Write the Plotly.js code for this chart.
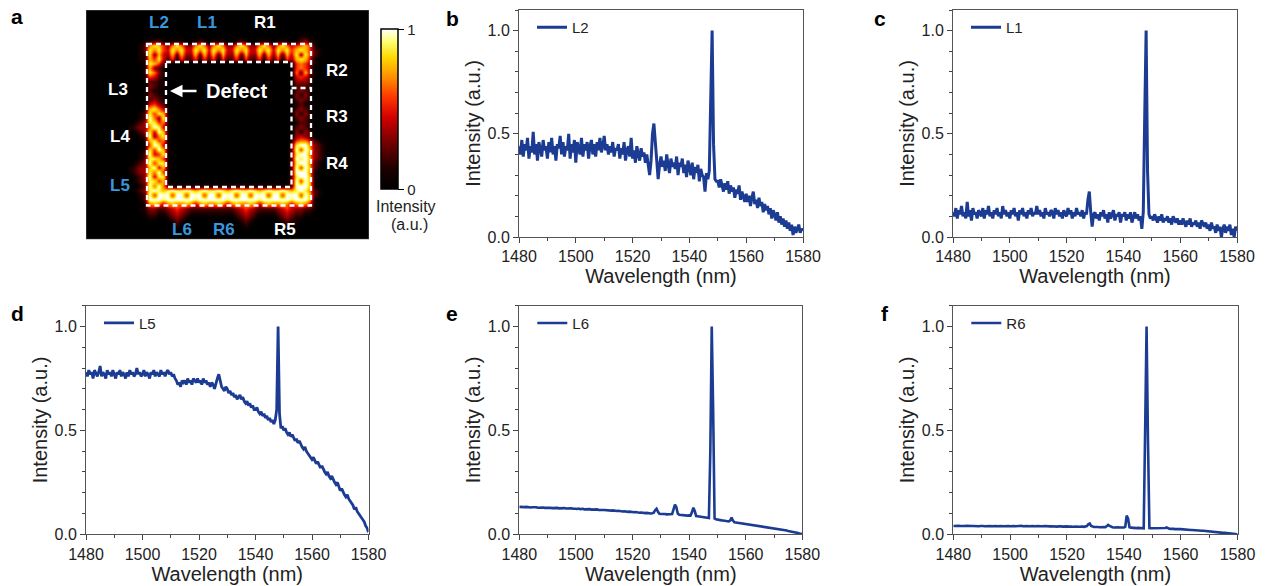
<!DOCTYPE html>
<html><head><meta charset="utf-8">
<script src="https://cdn.plot.ly/plotly-3.0.1.min.js"></script>
<style>html,body{margin:0;padding:0;background:#fff;}#chart{width:1270px;height:586px;}</style>
</head><body><div id="chart"></div>
<script>
// ---------- data ----------
const wlStart = 1480, wlStep = 0.5;      // wavelength grid (nm)
const seriesNames = ['L2', 'L1', 'L5', 'L6', 'R6'];
// normalized intensity, in percent (L2, L1, L5) and per-mille (L6, R6)
const L2pct = [44,40,47,39,45,42,48,38,44,41, 51,40,45,37,46,43,39,47,42,44, 38,46,41,48,40,44,37,45,43,49, 40,46,39,44,42,50,38,45,41,47,
 36,46,43,40,48,39,45,42,46,38, 44,47,40,45,39,46,42,48,41,44, 49,42,45,40,44,41,46,39,43,42, 45,38,43,40,46,37,42,44,39,48,
 38,42,36,44,40,37,43,39,41,36, 40,34,30,37,50,55,47,38,28,35, 39,34,37,32,40,35,31,38,34,36, 33,39,30,36,34,38,31,35,29,37,
 33,30,36,28,34,31,35,27,33,30, 29,22,31,28,32,62,100,45,28,27, 27,24,28,25,22,26,23,27,21,25, 22,24,19,23,21,25,18,22,20,17,
 21,17,20,15,19,22,16,18,14,19, 15,17,12,16,13,15,11,14,9,13, 11,8,12,7,10,6,9,5,8,4, 7,3,6,1,5,2,4,6,2,4, 3];
const L1pct = [12,10,14,9,13,11,15,10,12,9, 17,10,13,8,14,11,12,9,13,11, 10,14,9,13,11,15,10,12,9,13, 11,14,10,12,9,15,11,13,10,12,
 9,13,11,14,10,12,8,13,11,14, 10,12,9,13,11,14,10,12,11,15, 11,13,10,12,9,14,11,12,10,13, 12,9,14,11,13,10,12,9,13,11,
 10,14,11,13,9,12,10,14,11,12, 10,13,9,12,11,18,22,12,5,11, 12,9,11,8,12,10,13,9,11,7, 12,9,11,13,8,11,10,12,7,11,
 10,12,8,11,9,12,7,10,12,9, 11,8,10,4,12,58,100,32,11,9, 10,8,11,9,7,10,8,11,7,9, 8,10,7,9,6,10,8,7,9,6,
 8,6,9,7,5,8,6,9,5,7, 6,8,5,7,4,8,6,5,7,4, 6,3,7,4,5,2,6,3,5,0, 4,6,2,5,3,6,1,4,0,5, 3];
const L5pct = [78,76,79,77,78,75,79,77,76,78, 81,76,78,77,75,79,77,78,76,79, 77,75,78,77,79,76,78,77,75,78, 76,79,77,78,76,77,80,77,78,76,
 77,79,76,78,77,75,78,77,79,76, 78,77,76,79,77,78,76,78,79,77, 78,76,77,75,74,72,73,71,74,73, 74,72,75,73,74,72,75,74,73,75,
 73,74,72,75,73,74,72,73,71,73, 72,70,73,75,77,74,71,70,69,71, 70,68,69,67,68,66,67,65,66,67, 65,66,64,63,64,62,63,61,62,60,
 60,61,59,58,59,57,58,56,57,55, 56,54,55,53,55,60,100,58,51,52, 50,51,49,48,49,47,48,46,45,46, 44,45,43,42,41,42,40,39,38,37,
 36,37,35,34,35,33,32,33,31,30, 29,30,28,27,28,26,25,24,25,23, 21,22,20,19,18,19,17,16,15,14, 12,13,11,10,9,8,7,6,4,3, 1];
const L6pm = [132,131,133,130,131,132,130,131,129,130, 131,129,130,128,129,130,128,129,127,128, 129,127,128,126,127,128,126,127,125,126, 127,125,126,124,125,126,124,125,123,124,
 123,122,124,121,122,123,120,121,119,120, 121,119,120,118,119,120,117,118,116,117, 117,116,117,115,116,114,115,113,114,112, 113,111,112,110,111,109,110,108,109,107,
 108,106,107,105,106,104,105,103,104,102, 103,101,102,100,101,104,116,123,108,99, 98,99,97,98,96,97,95,96,98,120, 143,130,100,94,93,92,93,91,92,90,
 91,90,106,128,112,88,87,86,85,84, 83,82,80,79,78,400,1000,600,76,72, 70,69,68,67,66,65,64,63,62,66, 80,66,58,57,56,55,54,53,52,51,
 50,49,48,47,46,45,44,43,42,41, 40,39,38,37,36,35,34,33,32,31, 30,29,27,26,25,23,22,21,19,18, 16,15,13,12,10,9,7,6,4,3, 1];
const R6pm = [40,41,39,40,41,40,39,41,40,41, 40,39,41,40,40,39,41,40,39,40, 41,40,39,40,41,40,40,39,40,41, 40,39,40,41,40,39,40,40,41,40,
 39,40,41,40,39,40,39,40,41,39, 40,39,40,39,40,41,40,39,40,39, 40,39,38,39,40,39,38,39,38,39, 38,39,38,37,38,39,38,37,38,37,
 38,37,38,37,36,37,38,37,36,37, 36,37,36,38,40,48,52,40,36,35, 35,36,35,34,35,36,35,34,38,45, 40,35,34,33,34,33,34,33,32,33,
 33,36,90,75,34,32,31,32,31,30, 31,30,31,30,29,500,1000,450,30,29, 29,28,29,28,27,28,27,28,27,30, 33,29,27,26,27,26,25,26,25,25,
 25,24,24,23,23,22,22,21,21,20, 20,19,19,18,18,17,17,16,16,15, 15,14,13,13,12,11,10,10,9,8, 7,7,6,5,4,4,3,2,2,1, 0];

// simulated field intensity map (panel a), digits 0..9 = 0..1
const fieldRows = [
"0000|0000|0000000 0000000 0000000 0000000|0000|0000",
"0000|0000|0000000 0000000 0000000 0000000|0110|0000",
"0001|1221|0111001 2101110 0121001 1101110|1231|1000",
"0012|6875|3686336 8636863 3686336 8636864|5675|1000",
"0012|8685|4868448 6848684 4868448 6848685|7875|2100",
"0011|8374|3727337 2737273 3727337 2737274|8385|2100",
"0011|7584|2515225 1525152 2515225 1525153|7874|1000",
"0001|8752|1000000 0000000 0000000 0000000|5653|1000",
"0001|7321|0000000 0000000 0000000 0000000|5653|0000",
"0001|8631|0000000 0000000 0000000 0000000|6273|1000",
"0001|5421|0000000 0000000 0000000 0000000|4542|0000",
"0000|2211|0000000 0000000 0000000 0000000|3332|0000",
"0000|3211|0000000 0000000 0000000 0000000|2221|0000",
"0000|2110|0000000 0000000 0000000 0000000|2321|0000",
"0000|3211|0000000 0000000 0000000 0000000|3131|0000",
"0000|2321|0000000 0000000 0000000 0000000|2321|0000",
"0000|4532|0000000 0000000 0000000 0000000|1211|0000",
"0001|7864|1000000 0000000 0000000 0000000|2321|0000",
"0012|8587|1000000 0000000 0000000 0000000|3131|0000",
"0012|9638|1000000 0000000 0000000 0000000|2321|0000",
"0123|8856|1000000 0000000 0000000 0000000|1221|0000",
"1233|6984|1000000 0000000 0000000 0000000|2321|0000",
"0123|8497|1000000 0000000 0000000 0000000|3132|0000",
"0012|9368|1000000 0000000 0000000 0000000|3432|0000",
"0001|7856|1000000 0000000 0000000 0000001|5664|2100",
"0001|5984|1000000 0000000 0000000 0000002|8996|3210",
"0001|8597|1000000 0000000 0000000 0000002|9597|3210",
"0012|9458|1000000 0000000 0000000 0000002|8996|3210",
"0012|8875|1000000 0000000 0000000 0000002|9897|3210",
"0123|9588|1000000 0000000 0000000 0000002|8996|2100",
"1233|7947|1000000 0000000 0000000 0000002|9597|2100",
"1233|8695|1000000 0000000 0000000 0000002|9996|1000",
"0123|9488|1000000 0000000 0000000 0000002|8997|1000",
"0123|8857|1000000 0000000 0000000 0000002|9597|1000",
"0012|9696|2111111 1111111 1111111 1111112|9997|1000",
"0123|8987|8988987 8988987 8988987 8988987|8986|2100",
"0012|9599|9599599 9599599 9599599 9599599|9597|2100",
"0012|9998|9999998 9999998 9999998 9999998|9997|1000",
"0001|6764|6766764 6766764 6766764 6766764|6764|1000",
"0011|3322|3454322 2222222 2345432 2223454|3322|1000",
"0001|2211|2343211 1111111 1234321 1112343|2211|0000",
"0000|1100|1232100 0000000 0123210 0001232|1100|0000",
"0000|0000|0121000 0000000 0012100 0000121|1000|0000",
"0000|0000|0010000 0000000 0001000 0000010|0000|0000"
];
const portLabels = ['L2','L1','R1','R2','L3','R3','L4','R4','L5','L6','R6','R5'];
const portBlue   = [true,true,false,false,false,false,false,false,true,true,true,false];

// ---------- build ----------
const FONT = 'Arial, "Liberation Sans", sans-serif';
const W = 1270, H = 586;
const px = v => v / W, py = v => 1 - v / H;
const LINE = '#1b3c92';

const fieldZ = fieldRows.map(r => r.replace(/[^0-9]/g, '').split('').map(d => (+d) / 9));

const scaled = [L2pct.map(v => v / 100), L1pct.map(v => v / 100), L5pct.map(v => v / 100),
                L6pm.map(v => v / 1000), R6pm.map(v => v / 1000)];
const lineWidths = [3, 3, 2.8, 2.6, 2.6];

const panels = [ // plot-area boxes in pixels
  {l: 519, r: 803, t: 10, b: 237},
  {l: 953, r: 1237, t: 10, b: 237},
  {l: 86, r: 368.5, t: 305.7, b: 534.3},
  {l: 519.3, r: 802.3, t: 305.7, b: 534.3},
  {l: 953.3, r: 1237.5, t: 305.7, b: 534.3}
];

const traces = [];
const layout = {
  width: W, height: H, margin: {l: 0, r: 0, t: 0, b: 0},
  paper_bgcolor: '#fff', plot_bgcolor: 'rgba(0,0,0,0)',
  font: {family: FONT, color: '#222'},
  showlegend: true, annotations: [], shapes: []
};

panels.forEach((p, i) => {
  const n = i + 1;
  const xk = n === 1 ? 'xaxis' : 'xaxis' + n, yk = n === 1 ? 'yaxis' : 'yaxis' + n;
  const xr = n === 1 ? 'x' : 'x' + n, yr = n === 1 ? 'y' : 'y' + n;
  const lg = n === 1 ? 'legend' : 'legend' + n;
  traces.push({
    type: 'scatter', mode: 'lines', name: seriesNames[i],
    x0: wlStart, dx: wlStep, y: scaled[i],
    xaxis: xr, yaxis: yr, legend: lg,
    line: {color: LINE, width: lineWidths[i]}, hoverinfo: 'skip'
  });
  const common = {
    showline: true, mirror: true, linecolor: '#555', linewidth: 1,
    ticks: 'outside', ticklen: 5, tickwidth: 1, tickcolor: '#444',
    showgrid: false, zeroline: false,
    tickfont: {size: 16, color: '#222', family: FONT}
  };
  layout[xk] = Object.assign({}, common, {
    domain: [px(p.l), px(p.r)], anchor: yr, range: [1480, 1580],
    tick0: 1480, dtick: 20,
    minor: {ticks: 'outside', ticklen: 3, dtick: 10, tickcolor: '#444'},
    title: {text: 'Wavelength (nm)', font: {size: 20, color: '#222', family: FONT}, standoff: 4}
  });
  layout[yk] = Object.assign({}, common, {
    domain: [py(p.b), py(p.t)], anchor: xr, range: [0, 1.1],
    tick0: 0, dtick: 0.5, tickformat: '.1f',
    minor: {ticks: 'outside', ticklen: 3, dtick: 0.1, tickcolor: '#444'},
    title: {text: 'Intensity (a.u.)', font: {size: 20, color: '#222', family: FONT}, standoff: 1}
  });
  layout[lg] = {
    x: px(p.l + 13), y: py(p.t + 1), xanchor: 'left', yanchor: 'top',
    bgcolor: 'rgba(0,0,0,0)', borderwidth: 0,
    font: {size: 15, color: '#222', family: FONT}
  };
});

// heatmap panel (a)
const IMG = {l: 86, r: 369, t: 10, b: 239.3};
const cellW = 4.583, cellH = 4.53;
traces.push({
  type: 'heatmap', z: fieldZ,
  x0: 147 - 4 * cellW + cellW / 2, dx: cellW,
  y0: 43 - 3 * cellH + cellH / 2, dy: cellH,
  xaxis: 'x6', yaxis: 'y6', zmin: 0, zmax: 1, zsmooth: 'best',
  showlegend: false, hoverinfo: 'skip',
  colorscale: [[0,'#000000'],[0.12,'#1a0000'],[0.3,'#7a0000'],[0.45,'#d40000'],[0.58,'#ff3a00'],
               [0.7,'#ff9000'],[0.82,'#ffd800'],[0.92,'#ffff70'],[1,'#ffffff']],
  colorbar: {
    x: px(381), xanchor: 'left', xref: 'paper', y: py(109.3), yanchor: 'middle',
    len: 160, lenmode: 'pixels', thickness: 17, thicknessmode: 'pixels',
    outlinewidth: 1.5, outlinecolor: '#000', xpad: 0, ypad: 0,
    ticks: 'outside', ticklen: 6, tickwidth: 1.2, tickcolor: '#000',
    tickvals: [0, 1], ticktext: ['0', '1'],
    tickfont: {size: 15, color: '#222', family: FONT}
  }
});
layout.xaxis6 = {domain: [px(IMG.l), px(IMG.r)], range: [IMG.l, IMG.r], anchor: 'y6', visible: false, fixedrange: true};
layout.yaxis6 = {domain: [py(IMG.b), py(IMG.t)], range: [IMG.b, IMG.t], anchor: 'x6', visible: false, fixedrange: true};

layout.shapes.push({type: 'rect', xref: 'x6', yref: 'y6', x0: IMG.l, x1: IMG.r, y0: IMG.t, y1: IMG.b,
  fillcolor: '#000', line: {width: 1, color: '#555'}, layer: 'below'});
const dashLine = {color: '#fff', width: 2.3, dash: '5px,4px'};
layout.shapes.push({type: 'rect', xref: 'x6', yref: 'y6', x0: 147, x1: 311, y0: 44, y1: 205.5, line: dashLine});
layout.shapes.push({type: 'rect', xref: 'x6', yref: 'y6', x0: 166, x1: 291.5, y0: 62, y1: 187, line: dashLine});
layout.shapes.push({type: 'line', xref: 'x6', yref: 'y6', x0: 291.5, x1: 311, y0: 88, y1: 88, line: dashLine});

// port labels (positions in image pixels)
const labelPos = [[159,22.7],[206.7,22.7],[265,22.7],[336.7,70],[118.3,89.3],[336.7,116.7],
                  [120,136.7],[336.7,163.3],[120,185],[181.7,229.3],[224,229.3],[285,229.3]];
portLabels.forEach((t, i) => {
  layout.annotations.push({xref: 'x6', yref: 'y6', x: labelPos[i][0], y: labelPos[i][1], text: '<b>' + t + '</b>',
    xanchor: 'center', yanchor: 'middle', showarrow: false,
    font: {size: 17, color: portBlue[i] ? '#3a97dc' : '#fff', family: FONT}});
});
layout.annotations.push({xref: 'x6', yref: 'y6', x: 236, y: 91, text: '<b>Defect</b>', showarrow: false,
  xanchor: 'center', yanchor: 'middle', font: {size: 20, color: '#fff', family: FONT}});
layout.annotations.push({xref: 'x6', yref: 'y6', axref: 'x6', ayref: 'y6', x: 170, y: 91, ax: 198, ay: 91,
  text: '', showarrow: true, arrowhead: 2, arrowsize: 1, arrowwidth: 2.5, arrowcolor: '#fff'});
layout.annotations.push({xref: 'paper', yref: 'paper', x: px(406), y: py(206), text: 'Intensity', showarrow: false,
  xanchor: 'center', yanchor: 'middle', font: {size: 16, color: '#222', family: FONT}});
layout.annotations.push({xref: 'paper', yref: 'paper', x: px(409), y: py(224), text: '(a.u.)', showarrow: false,
  xanchor: 'center', yanchor: 'middle', font: {size: 16, color: '#222', family: FONT}});

// panel letters
[['a',17,17],['b',452,18],['c',880,18],['d',17,313],['e',452,313],['f',885,313]].forEach(([t,x,y]) => {
  layout.annotations.push({xref: 'paper', yref: 'paper', x: px(x), y: py(y), text: '<b>' + t + '</b>',
    xanchor: 'center', yanchor: 'middle', showarrow: false, font: {size: 21, color: '#000', family: FONT}});
});

Plotly.newPlot('chart', traces, layout, {displayModeBar: false, staticPlot: true});
</script>
</body></html>
